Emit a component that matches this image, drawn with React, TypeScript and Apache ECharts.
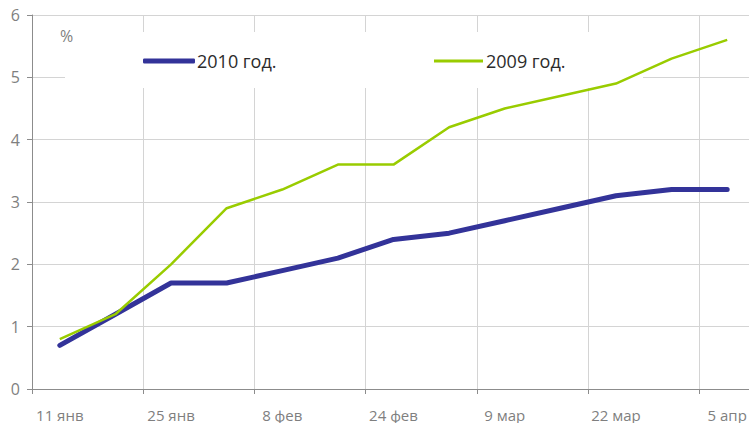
import React, { useEffect, useRef } from "react";
import * as echarts from "echarts";

const categories = [
  "11 янв", "18 янв", "25 янв", "1 фев", "8 фев", "15 фев", "24 фев",
  "1 мар", "9 мар", "15 мар", "22 мар", "29 мар", "5 апр",
];
const series2010 = [0.7, 1.2, 1.7, 1.7, 1.9, 2.1, 2.4, 2.5, 2.7, 2.9, 3.1, 3.2, 3.2];
const series2009 = [0.8, 1.2, 2.0, 2.9, 3.2, 3.6, 3.6, 4.2, 4.5, 4.7, 4.9, 5.3, 5.6];
const name2010 = "2010 год.";
const name2009 = "2009 год.";
const unitLabel = "%";

const FONT = "'Open Sans', 'Noto Sans', sans-serif";

export default function App() {
  const ref = useRef<HTMLDivElement>(null);
  useEffect(() => {
    if (!ref.current) return;
    const chart = echarts.init(ref.current, undefined, { renderer: "svg" });
    chart.setOption({
      animation: false,
      backgroundColor: "#ffffff",
      textStyle: { fontFamily: FONT },
      grid: {
        left: 32,
        top: 15,
        height: 374,
        width: 723,
        containLabel: false,
        outerBoundsMode: "none",
      },
      graphic: [
        {
          type: "rect",
          z: 1,
          shape: { x: 65, y: 32, width: 578, height: 56 },
          style: { fill: "#ffffff" },
        },
        {
          type: "text",
          z: 5,
          left: 60,
          top: 28,
          style: { text: unitLabel, fill: "#808080", font: `16px ${FONT}` },
        },
      ],
      legend: [
        {
          data: [name2010],
          left: 143,
          top: 52,
          itemWidth: 52,
          itemHeight: 5,
          itemGap: 0,
          padding: 0,
          icon: "roundRect",
          textStyle: { color: "#2b2b2b", fontSize: 18, fontFamily: FONT, padding: [0, 0, 0, -3] },
        },
        {
          data: [name2009],
          left: 434,
          top: 52,
          itemWidth: 49,
          itemHeight: 3,
          itemGap: 0,
          padding: 0,
          icon: "rect",
          textStyle: { color: "#2b2b2b", fontSize: 18, fontFamily: FONT, padding: [0, 0, 0, -2] },
        },
      ],
      xAxis: {
        type: "category",
        data: categories,
        boundaryGap: true,
        axisLine: { lineStyle: { color: "#8c8c8c", width: 1 } },
        axisTick: { show: true, interval: 1, length: 5, lineStyle: { color: "#8c8c8c" } },
        axisLabel: { interval: 1, color: "#7f7f7f", fontSize: 15, margin: 18, fontFamily: FONT },
        splitLine: { show: true, interval: 1, lineStyle: { color: "#d4d4d4", width: 1 } },
      },
      yAxis: {
        type: "value",
        min: 0,
        max: 6,
        interval: 1,
        axisLine: { show: true, lineStyle: { color: "#8c8c8c", width: 1 } },
        axisTick: { show: true, length: 5, lineStyle: { color: "#8c8c8c" } },
        axisLabel: { color: "#7f7f7f", fontSize: 16, margin: 12, fontFamily: FONT },
        splitLine: { show: true, lineStyle: { color: "#d4d4d4", width: 1 } },
      },
      series: [
        {
          name: name2010,
          type: "line",
          data: series2010,
          symbol: "none",
          z: 3,
          color: "#333399",
          lineStyle: { color: "#333399", width: 5, cap: "round", join: "round" },
        },
        {
          name: name2009,
          type: "line",
          data: series2009,
          symbol: "none",
          z: 4,
          color: "#99cc00",
          lineStyle: { color: "#99cc00", width: 2.5 },
        },
      ],
    });
    return () => chart.dispose();
  }, []);
  return <div ref={ref} style={{ width: 749, height: 423, position: "absolute", left: 0, top: 0 }} />;
}
